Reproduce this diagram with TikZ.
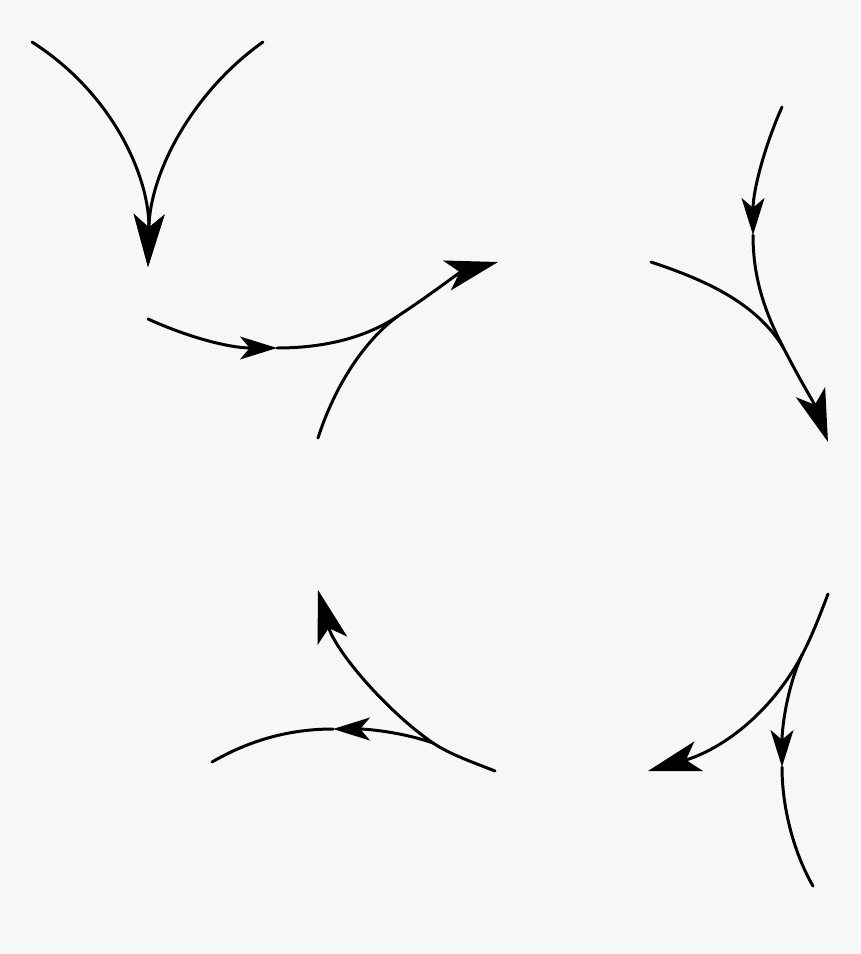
\documentclass[tikz,border=0pt]{standalone}
\usepackage{xcolor}
\usetikzlibrary{arrows.meta}

\definecolor{paper}{HTML}{F7F7F7}

\tikzset{
  flow/.style={line width=1.7pt, line cap=round},
  bigtip/.style={-{Stealth[length=30pt, width=17.5pt, inset=7.5pt]}},
  midtip/.style={-{Stealth[length=21pt, width=13pt, inset=5.5pt]}}
}

\begin{document}
\begin{tikzpicture}[x=0.02cm, y=-0.02cm]
                \fill[paper] (0,0) rectangle (860,954);
                \useasboundingbox (0,0) rectangle (860,954);

                % top left
                \coordinate (vl) at (32,42);
                \coordinate (vr) at (263,42);
                \coordinate (vtip) at (148,267);
                \draw[flow,bigtip] (vl) .. controls (115,95) and (150,180) .. (vtip);
                \draw[flow,bigtip] (vr) .. controls (195,90) and (150,170) .. (vtip);

                % top middle
                \coordinate (ma) at (148,319);
                \coordinate (mmid) at (277,348);
                \coordinate (mjoin) at (398,316);
                \coordinate (mb) at (318,438);
                \coordinate (mtip) at (498,262);
                \draw[flow,midtip] (ma) .. controls (190,338) and (230,348) .. (mmid);
                \draw[flow,bigtip] (mmid) .. controls (330,348) and (370,335) .. (mjoin)
                                          .. controls (430,295) and (460,272) .. (mtip);
                \draw[flow] (mb) .. controls (335,385) and (365,340) .. (mjoin);

                % top right
                \coordinate (ra) at (782,107);
                \coordinate (rmid) at (753,235);
                \coordinate (rjoin) at (783,347);
                \coordinate (rb) at (651,262);
                \coordinate (rtip) at (828,442);
                \draw[flow,midtip] (ra) .. controls (765,145) and (753,190) .. (rmid);
                \draw[flow,bigtip] (rmid) .. controls (753,280) and (766,314) .. (rjoin)
                                          .. controls (800,380) and (815,405) .. (rtip);
                \draw[flow] (rb) .. controls (705,280) and (755,302) .. (rjoin);

                % bottom right
                \coordinate (sa) at (828,594);
                \coordinate (ssplit) at (802,655);
                \coordinate (stip) at (648,771);
                \coordinate (smid) at (782,767);
                \coordinate (sb) at (813,886);
                \draw[flow,bigtip] (sa) .. controls (820,615) and (812,636) .. (ssplit)
                                        .. controls (770,715) and (720,750) .. (stip);
                \draw[flow,midtip] (ssplit) .. controls (788,685) and (782,725) .. (smid);
                \draw[flow] (smid) .. controls (782,810) and (795,855) .. (sb);

                % bottom left
                \coordinate (la) at (495,771);
                \coordinate (lsplit) at (433,743);
                \coordinate (ltip) at (318,590);
                \coordinate (lmid) at (333,729);
                \coordinate (lb) at (212,762);
                \draw[flow,bigtip] (la) .. controls (475,763) and (451,755) .. (lsplit)
                                        .. controls (385,710) and (335,650) .. (ltip);
                \draw[flow,midtip] (lsplit) .. controls (405,733) and (370,729) .. (lmid);
                \draw[flow] (lmid) .. controls (290,729) and (250,740) .. (lb);
            \end{tikzpicture}
\end{document}
